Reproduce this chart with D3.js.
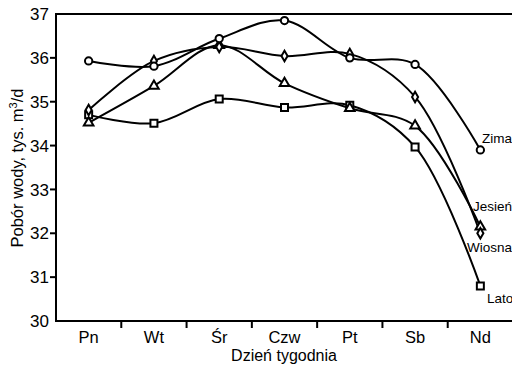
<!DOCTYPE html>
<html><head><meta charset="utf-8">
<script src="https://cdn.jsdelivr.net/npm/d3@7"></script>
<style>body{margin:0;background:#fff}svg{display:block}</style>
</head><body>
<svg id="c" width="512" height="365"></svg>
<script>
const days = ["Pn","Wt","Śr","Czw","Pt","Sb","Nd"];
const zima   = [35.93,35.81,36.44,36.85,36.00,35.85,33.90];
const wiosna = [34.81,35.93,36.25,36.04,36.09,35.11,32.00];
const jesien = [34.52,35.36,36.29,35.42,34.85,34.45,32.15];
const lato   = [34.70,34.51,35.06,34.87,34.92,33.97,30.80];
const yTicks = [30,31,32,33,34,35,36,37];
const seriesNames = ["Zima","Wiosna","Jesień","Lato"];

const svg = d3.select("#c");
const L = 56, R = 513, T = 14, B = 321;
const x = d3.scaleBand().domain(days).range([L, R]);
const y = d3.scaleLinear().domain([30,37]).range([B, T]);
const font = "Liberation Sans, Arial, sans-serif";

// frame
svg.append("path").attr("d", `M${L},${T}H${R}V${B}H${L}Z`).attr("fill","none").attr("stroke","#000").attr("stroke-width",2);

// y ticks
const yg = svg.append("g");
yg.selectAll("line").data(yTicks.filter(v=>v>30&&v<37)).join("line")
  .attr("x1",L-6).attr("x2",L).attr("y1",d=>y(d)).attr("y2",d=>y(d)).attr("stroke","#000").attr("stroke-width",2);
yg.selectAll("text").data(yTicks).join("text")
  .attr("x",L-7).attr("y",d=>y(d)).attr("dy","0.36em").attr("text-anchor","end")
  .attr("font-family",font).attr("font-size",17).text(d=>d);

// x ticks at band boundaries
const bounds = days.slice(1).map(d=>x(d)).concat([R]);
svg.append("g").selectAll("line").data(bounds).join("line")
  .attr("x1",d=>d).attr("x2",d=>d).attr("y1",B).attr("y2",B+7).attr("stroke","#000").attr("stroke-width",2);
svg.append("g").selectAll("text").data(days).join("text")
  .attr("x",d=>x(d)+x.bandwidth()/2).attr("y",343).attr("text-anchor","middle")
  .attr("font-family",font).attr("font-size",16.5).text(d=>d);

// axis titles
svg.append("text").attr("x",284).attr("y",361).attr("text-anchor","middle")
  .attr("font-family",font).attr("font-size",16).text("Dzień tygodnia");
const yt = svg.append("text").attr("transform","translate(23,168) rotate(-90)").attr("text-anchor","middle")
  .attr("font-family",font).attr("font-size",16.5);
yt.append("tspan").text("Pobór wody, tys. m");
yt.append("tspan").attr("baseline-shift","super").attr("font-size",11).text("3");
yt.append("tspan").text("/d");

const cx = d => x(d) + x.bandwidth()/2;
const line = d3.line().x((v,i)=>cx(days[i])).y(v=>y(v)).curve(d3.curveCatmullRom.alpha(0.5));

const data = [
  {name:"Lato", vals:lato, sym:d3.symbolSquare, size:49, lab:[487,303]},
  {name:"Jesień", vals:jesien, sym:d3.symbolTriangle, size:40, lab:[473,211]},
  {name:"Wiosna", vals:wiosna, sym:d3.symbolDiamond, size:32, lab:[467,252]},
  {name:"Zima", vals:zima, sym:d3.symbolCircle, size:42, lab:[482,143]},
];
data.forEach(s=>{
  svg.append("path").attr("d",line(s.vals)).attr("fill","none").attr("stroke","#000").attr("stroke-width",2);
});
data.forEach(s=>{
  svg.append("g").selectAll("path").data(s.vals).join("path")
    .attr("transform",(v,i)=>`translate(${cx(days[i])},${y(v)})`)
    .attr("d",d3.symbol().type(s.sym).size(s.size)())
    .attr("fill","#fff").attr("stroke","#000").attr("stroke-width",2);
  svg.append("text").attr("x",s.lab[0]).attr("y",s.lab[1]).attr("font-family",font).attr("font-size",13.5).text(s.name);
});
</script>
</body></html>
